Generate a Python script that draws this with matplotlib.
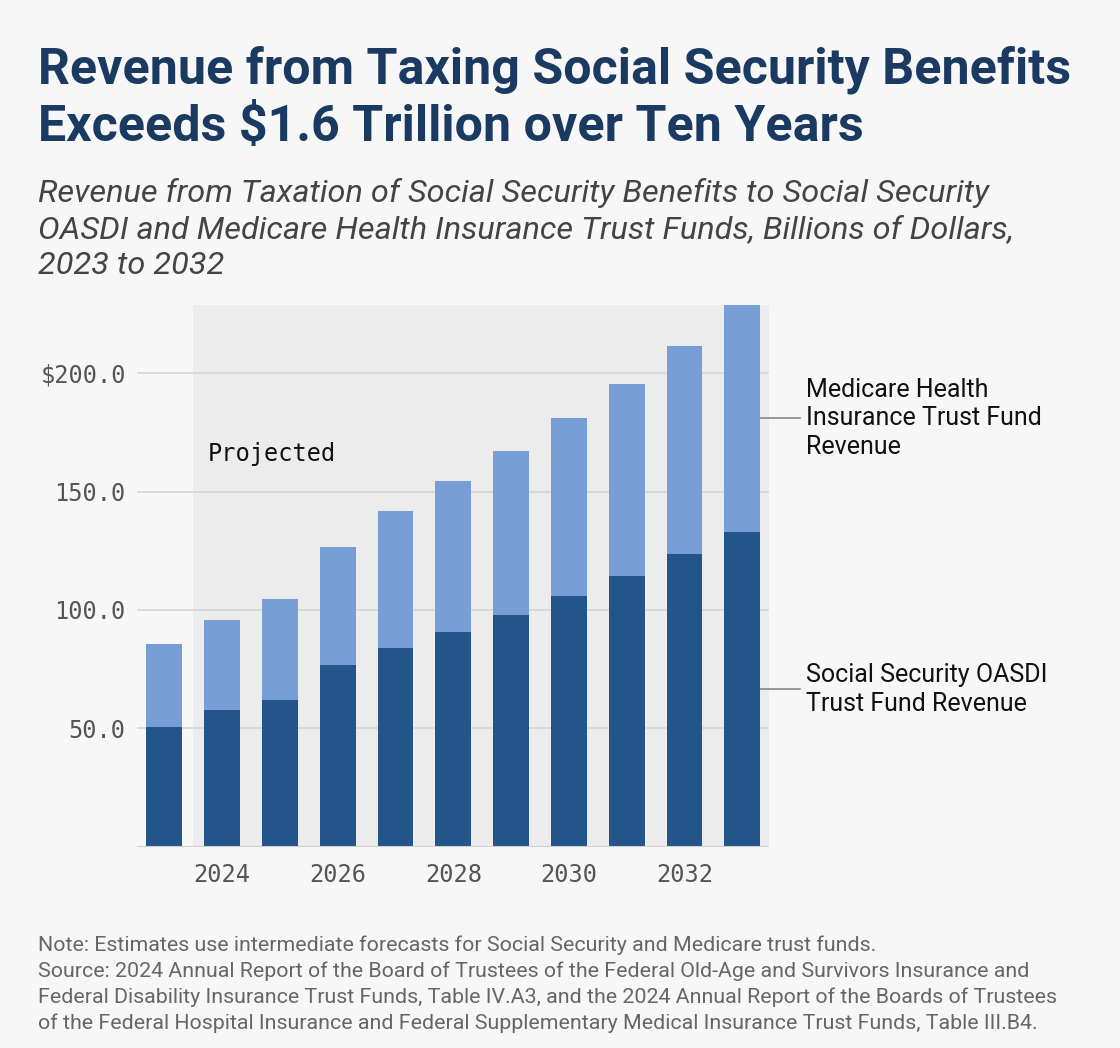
import matplotlib
matplotlib.use('Agg')
import matplotlib.pyplot as plt
import numpy as np

# data (billions of dollars)
years = [2023, 2024, 2025, 2026, 2027, 2028, 2029, 2030, 2031, 2032, 2033]
oasdi = [50.7, 57.6, 62.1, 76.6, 83.8, 90.7, 97.8, 105.9, 114.3, 123.5, 132.9]
total = [85.7, 95.6, 104.7, 126.6, 141.8, 154.3, 167.0, 180.9, 195.4, 211.4, 228.8]
medicare = [t - s for t, s in zip(total, oasdi)]

ytick_vals = [50, 100, 150, 200]
ytick_labels = ['50.0', '100.0', '150.0', '$200.0']
xtick_vals = [2024, 2026, 2028, 2030, 2032]

BG = '#f7f7f7'
SHADE = '#ececec'
DARK = '#23548a'
LIGHT = '#779fd5'
TITLE_C = '#1b3a61'
MONO = 'DejaVu Sans Mono'

plt.rcParams['font.family'] = ['Roboto', 'DejaVu Sans']

fig = plt.figure(figsize=(11.2, 10.48), dpi=100, facecolor=BG)
ax = fig.add_axes([0.1223, 0.1921, 0.5643, 0.5169])
ax.set_facecolor(BG)

bw = 0.62
ax.bar(years, oasdi, width=bw, color=DARK, zorder=3)
ax.bar(years, medicare, width=bw, bottom=oasdi, color=LIGHT, zorder=3)

x0, x1 = 2022.53, 2033.46
ax.set_xlim(x0, x1)
ax.set_ylim(0, total[-1])
ax.axvspan(2023.5, x1, color=SHADE, zorder=0, lw=0)

for v in ytick_vals:
    ax.axhline(v, color='#d6d6d6', lw=1.2, zorder=1)
ax.axhline(0, color='#cfcfcf', lw=1.5, zorder=4)

ax.set_yticks(ytick_vals)
ax.set_yticklabels(ytick_labels, family=MONO, fontsize=17, color='#555555')
ax.set_xticks(xtick_vals)
ax.set_xticklabels([str(x) for x in xtick_vals], family=MONO, fontsize=17, color='#555555')
ax.tick_params(axis='both', length=0)
ax.tick_params(axis='y', pad=8)
ax.tick_params(axis='x', pad=12)
for s in ax.spines.values():
    s.set_visible(False)

ax.text(2023.75, 166, 'Projected', family=MONO, fontsize=17, color='#111111',
        va='center', ha='left', zorder=5)

# labels on the right, pointing at the middle of the last bar's segments
xr = years[-1] + bw / 2
ys = oasdi[-1] / 2
ym = oasdi[-1] + medicare[-1] / 2
ax.plot([xr, 2034.0], [ym, ym], color='#888888', lw=1.2, clip_on=False)
ax.plot([xr, 2034.0], [ys, ys], color='#888888', lw=1.2, clip_on=False)
ax.text(2034.1, ym, 'Medicare Health\nInsurance Trust Fund\nRevenue', fontsize=18,
        va='center', ha='left', color='#111111', linespacing=1.25)
ax.text(2034.1, ys, 'Social Security OASDI\nTrust Fund Revenue', fontsize=18,
        va='center', ha='left', color='#111111', linespacing=1.25)

fig.text(38 / 1120, 1 - 46 / 1048,
         'Revenue from Taxing Social Security Benefits\nExceeds $1.6 Trillion over Ten Years',
         fontsize=36.1, fontweight='bold', color=TITLE_C, va='top', ha='left', linespacing=1.27)
fig.text(38 / 1120, 1 - 178 / 1048,
         'Revenue from Taxation of Social Security Benefits to Social Security\n'
         'OASDI and Medicare Health Insurance Trust Funds, Billions of Dollars,\n'
         '2023 to 2032',
         fontsize=23.4, style='italic', color='#444444', va='top', ha='left', linespacing=1.31)
fig.text(38 / 1120, 1 - 935 / 1048,
         'Note: Estimates use intermediate forecasts for Social Security and Medicare trust funds.\n'
         'Source: 2024 Annual Report of the Board of Trustees of the Federal Old-Age and Survivors Insurance and\n'
         'Federal Disability Insurance Trust Funds, Table IV.A3, and the 2024 Annual Report of the Boards of Trustees\n'
         'of the Federal Hospital Insurance and Federal Supplementary Medical Insurance Trust Funds, Table III.B4.',
         fontsize=15.4, color='#666666', va='top', ha='left', linespacing=1.43)

fig.savefig('out.png', dpi=100, facecolor=BG)
